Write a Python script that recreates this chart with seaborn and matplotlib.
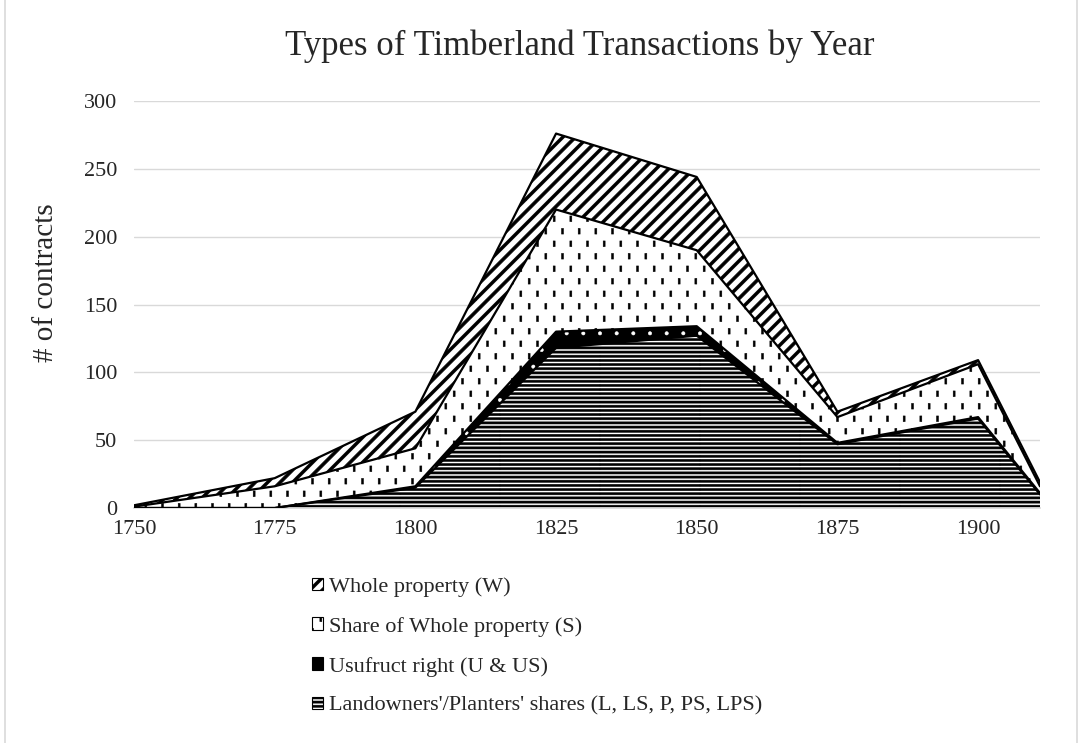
import numpy as np
import pandas as pd
import seaborn as sns
import matplotlib.pyplot as plt
import matplotlib.hatch as mhatch
import matplotlib.patches as mpatches
from matplotlib.lines import Line2D
from matplotlib.path import Path

# data (number of contracts per period)
years = [1750, 1775, 1800, 1825, 1850, 1875, 1900, 1911]
landowners = [0, 0, 15, 118, 127, 47, 66, 10]
usufruct = [0, 0, 1, 12, 7, 1, 1, 1]
share = [1, 16, 28, 90, 56, 19, 39, 5]
whole = [1, 6, 27, 56, 54, 4, 3, 3]

series_names = ["Landowners'/Planters' shares (L, LS, P, PS, LPS)",
                "Usufruct right (U & US)",
                "Share of Whole property (S)",
                "Whole property (W)"]
xticks = [1750, 1775, 1800, 1825, 1850, 1875, 1900]
yticks = [0, 50, 100, 150, 200, 250, 300]


# --- Excel-like fill patterns as extra hatch types (filled shapes per cell) ---
def _quads(vertices, codes, quads):
    # quads: array (m, 4, 2) -> closed polygons
    m = len(quads)
    v = np.concatenate([quads, quads[:, :1, :]], axis=1).reshape(-1, 2)
    vertices[:] = v
    c = np.full((m, 5), Path.LINETO, dtype=Path.code_type)
    c[:, 0] = Path.MOVETO
    c[:, 4] = Path.CLOSEPOLY
    codes[:] = c.ravel()


class DiagHatch(mhatch.HatchPatternBase):
    # 'D': wide upward diagonal
    def __init__(self, hatch, density):
        self.n = 8 if 'D' in hatch else 0
        self.num_vertices = (2 * self.n + 1) * 5 if self.n else 0

    def set_vertices_and_codes(self, vertices, codes):
        k = np.arange(-self.n, self.n + 1) / self.n
        w = 0.021
        q = np.stack([np.stack([k - w, np.zeros_like(k)], 1),
                      np.stack([k + w, np.zeros_like(k)], 1),
                      np.stack([k + w + 1, np.ones_like(k)], 1),
                      np.stack([k - w + 1, np.ones_like(k)], 1)], 1)
        _quads(vertices, codes, q)


class DenseHorizontal(mhatch.HatchPatternBase):
    # 'H': narrow horizontal
    def __init__(self, hatch, density):
        self.n = 24 if 'H' in hatch else 0
        self.num_vertices = self.n * 5

    def set_vertices_and_codes(self, vertices, codes):
        y = (np.arange(self.n) + 0.5) / self.n
        h = 0.0105
        q = np.stack([np.stack([np.zeros_like(y), y - h], 1),
                      np.stack([np.ones_like(y), y - h], 1),
                      np.stack([np.ones_like(y), y + h], 1),
                      np.stack([np.zeros_like(y), y + h], 1)], 1)
        _quads(vertices, codes, q)


class DashedVertical(mhatch.HatchPatternBase):
    # 'V': dashed vertical, staggered rows
    def __init__(self, hatch, density):
        self.rows, self.cols = 8, 6
        self.num_vertices = self.rows * self.cols * 5 if 'V' in hatch else 0

    def set_vertices_and_codes(self, vertices, codes):
        r, c = np.meshgrid(np.arange(self.rows), np.arange(self.cols), indexing='ij')
        r = r.ravel()
        c = c.ravel()
        x = (c + 0.25 + 0.5 * (r % 2)) / self.cols
        y = (r + 0.5) / self.rows
        w, h = 0.0095, 0.028
        q = np.stack([np.stack([x - w, y - h], 1),
                      np.stack([x + w, y - h], 1),
                      np.stack([x + w, y + h], 1),
                      np.stack([x - w, y + h], 1)], 1)
        _quads(vertices, codes, q)


mhatch._hatch_types += [DiagHatch, DenseHorizontal, DashedVertical]
mhatch._validate_hatch_pattern = lambda h: None

sns.set_theme(style="white")
plt.rcParams['font.family'] = ['Liberation Serif', 'DejaVu Serif']
plt.rcParams['hatch.linewidth'] = 0.4

df = pd.DataFrame({'year': years,
                   series_names[0]: landowners,
                   series_names[1]: usufruct,
                   series_names[2]: share,
                   series_names[3]: whole})
tops = df[series_names].cumsum(axis=1)

W, H = 1083, 743
fig = plt.figure(figsize=(W / 100, H / 100), dpi=100)
ax = fig.add_axes([134 / W, 1 - 508 / H, (1040 - 134) / W, (508 - 101) / H])

styles = [
    dict(facecolor='white', edgecolor='black', hatch='H'),
    dict(facecolor='black', edgecolor='white', hatch='.'),
    dict(facecolor='white', edgecolor='black', hatch='V'),
    dict(facecolor='white', edgecolor='black', hatch='D'),
]
lower = np.zeros(len(years))
for name, st in zip(series_names, styles):
    upper = tops[name].to_numpy()
    ax.fill_between(df['year'], lower, upper, linewidth=0, zorder=2, **st)
    lower = upper

# outlines of each layer
long = tops.assign(year=df['year']).melt(id_vars='year', var_name='layer', value_name='top')
sns.lineplot(data=long, x='year', y='top', hue='layer', palette=['black'] * 4,
             legend=False, linewidth=1.6, ax=ax, zorder=3)

ax.set_xlim(years[0], years[-1])
ax.set_ylim(0, 300)
ax.set_xticks(xticks)
ax.set_yticks(yticks)
ax.tick_params(axis='x', length=5, color='#d9d9d9', width=1, labelsize=16, pad=4)
ax.tick_params(axis='y', length=0, labelsize=16, pad=12)
ax.yaxis.grid(True, color='#d9d9d9', linewidth=1)
ax.xaxis.grid(False)
ax.set_axisbelow(True)
for side in ['left', 'top', 'right']:
    ax.spines[side].set_visible(False)
ax.spines['bottom'].set_color('#d9d9d9')
ax.set_xlabel('')
ax.set_ylabel('# of contracts', fontsize=21)
ax.yaxis.set_label_coords(-0.083, 0.553)

fig.text(580 / W, 1 - 46 / H, 'Types of Timberland Transactions by Year',
         ha='center', va='center', fontsize=25)

handles = [mpatches.Patch(facecolor=st['facecolor'], edgecolor='black',
                          hatch=st['hatch'] if st['facecolor'] == 'white' else None,
                          linewidth=0.8) for st in styles]
fig.legend(handles[::-1], series_names[::-1], loc='upper left',
           bbox_to_anchor=(312 / W, 1 - 577 / H), frameon=False, fontsize=16,
           handlelength=0.5, handleheight=0.5, handletextpad=0.25,
           labelspacing=0.9, borderpad=0, borderaxespad=0)

# chart area border
fig.add_artist(Line2D([5 / W, 5 / W], [0, 1], color='#d9d9d9', lw=1.2,
                      transform=fig.transFigure))
fig.add_artist(Line2D([1077 / W, 1077 / W], [0, 1], color='#d9d9d9', lw=1.2,
                      transform=fig.transFigure))

fig.savefig('out.png', dpi=100)
